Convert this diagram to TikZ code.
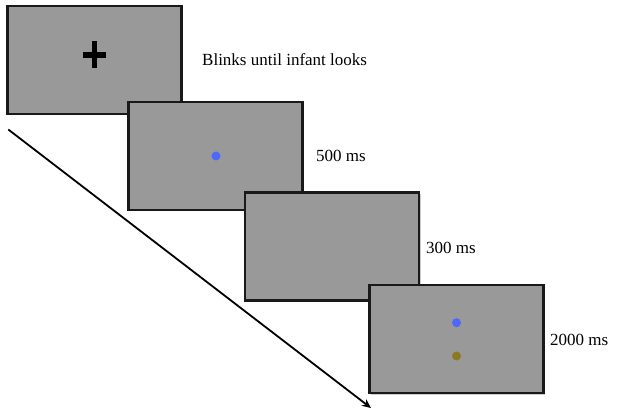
\documentclass[tikz,border=0pt]{standalone}
\usepackage{fontspec}
\setmainfont{Liberation Serif}
\usetikzlibrary{arrows.meta}
\definecolor{scrgray}{HTML}{999999}
\definecolor{dotblue}{HTML}{4D68FC}
\definecolor{dotolive}{HTML}{8A7B22}
\tikzset{
  screen/.style={draw=black!90, line width=2.1pt, fill=scrgray, minimum width=174pt, minimum height=108pt, inner sep=0pt,
    preaction={fill=black, opacity=0.2, transform canvas={shift={(1.5pt,-1.5pt)}}}},
  lbl/.style={anchor=base west, font=\fontsize{17}{20}\selectfont, inner sep=0pt},
  dot/.style={circle, inner sep=0pt, minimum size=9pt},
}
\begin{document}
\begin{tikzpicture}[x=1pt,y=-1pt]
\useasboundingbox (0,0) rectangle (618,414);
\node[screen] (s1) at (94.5,60) {};
\node[screen] (s2) at (215.5,155.8) {};
\node[screen] (s3) at (332,246.5) {};
\node[screen] (s4) at (456.5,339.3) {};
% fixation cross
\node[fill=black, minimum width=23pt, minimum height=5.5pt, inner sep=0pt] (ch) at (94.5,55) {};
\node[fill=black, minimum width=5.5pt, minimum height=27pt, inner sep=0pt] (cv) at (94.5,55) {};
% dots
\node[dot, fill=dotblue] (d2) at (216,156) {};
\node[dot, fill=dotblue] (d4a) at (456.5,322.7) {};
\node[dot, fill=dotolive] (d4b) at (456.5,356) {};
% labels
\node[lbl] (t1) at (202,66) {Blinks until infant looks};
\node[lbl] (t2) at (316,162) {500 ms};
\node[lbl] (t3) at (426,253) {300 ms};
\node[lbl] (t4) at (550,345) {2000 ms};
% time arrow
\coordinate (a0) at (8.3,129.5);
\coordinate (a1) at (371,408);
\draw[line width=1.8pt, -{Stealth[length=9pt,width=8pt]}] (a0) -- (a1);
\end{tikzpicture}
\end{document}
